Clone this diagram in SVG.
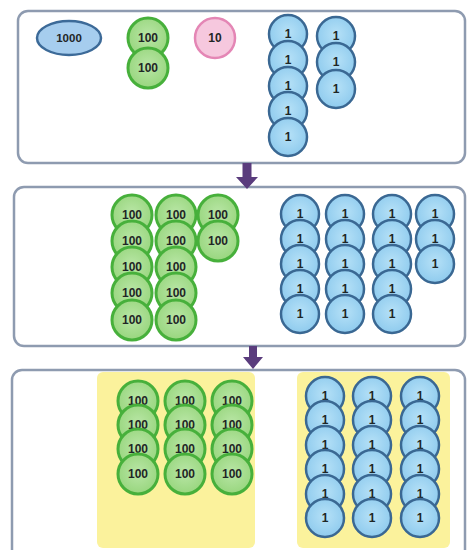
<svg xmlns="http://www.w3.org/2000/svg" width="467" height="550" viewBox="0 0 467 550">
<defs>
<radialGradient id="gb" cx="50%" cy="45%" r="55%"><stop offset="0" stop-color="#b6e1f7"/><stop offset="1" stop-color="#8fcbee"/></radialGradient>
<radialGradient id="gg" cx="50%" cy="45%" r="55%"><stop offset="0" stop-color="#b9e6a6"/><stop offset="1" stop-color="#98d67e"/></radialGradient>
<style>
.panel{fill:#fff;stroke:#8e9bb0;stroke-width:2.5}
.yellow{fill:#fbf29c}
.b circle{fill:url(#gb);stroke:#3a6893;stroke-width:2.5}
.g circle{fill:url(#gg);stroke:#47b03b;stroke-width:3}
.p circle{fill:#f6c8de;stroke:#e486b5;stroke-width:2.5}
.o ellipse{fill:#a6cdee;stroke:#3c6a98;stroke-width:2.5}
text{font-family:"Liberation Sans",Arial,sans-serif;font-weight:bold;font-size:12px;fill:#1f2626;text-anchor:middle;dominant-baseline:central}
.o text{font-size:11.5px}
.arrow{fill:#5a3c7d}
</style>
</defs>
<g id="panels">
<rect id="panel-top" class="panel" x="18" y="11" width="447" height="152" rx="10"/>
<rect id="panel-mid" class="panel" x="14" y="187" width="451" height="159" rx="10"/>
<rect id="panel-bot" class="panel" x="12" y="370" width="453" height="200" rx="10"/>
<rect id="yellow-left" class="yellow" x="97" y="372" width="158" height="176" rx="6"/>
<rect id="yellow-right" class="yellow" x="297" y="372" width="153" height="176" rx="6"/>
</g>
<g id="connectors">
<polygon class="arrow" points="242.5,163 251.5,163 251.5,177 258,177 247,189 236,177 242.5,177"/>
<polygon class="arrow" points="249,346 257,346 257,357 263,357 253,369 243,357 249,357"/>
</g>
<g id="top">
<g id="t1000" class="o"><ellipse cx="69" cy="38" rx="32" ry="17"/><text x="69" y="38">1000</text></g>
<g id="t100a" class="g"><circle cx="148" cy="38" r="20"/><text x="148" y="38">100</text></g>
<g id="t100b" class="g"><circle cx="148" cy="68" r="20"/><text x="148" y="68">100</text></g>
<g id="t10" class="p"><circle cx="215" cy="38" r="20"/><text x="215" y="38">10</text></g>
<g id="t1a" class="b"><circle cx="288" cy="34" r="19"/><text x="288" y="34">1</text></g>
<g id="t1b" class="b"><circle cx="288" cy="60" r="19"/><text x="288" y="60">1</text></g>
<g id="t1c" class="b"><circle cx="288" cy="86" r="19"/><text x="288" y="86">1</text></g>
<g id="t1d" class="b"><circle cx="288" cy="111" r="19"/><text x="288" y="111">1</text></g>
<g id="t1e" class="b"><circle cx="288" cy="137" r="19"/><text x="288" y="137">1</text></g>
<g id="t1f" class="b"><circle cx="336" cy="36" r="19"/><text x="336" y="36">1</text></g>
<g id="t1g" class="b"><circle cx="336" cy="62" r="19"/><text x="336" y="62">1</text></g>
<g id="t1h" class="b"><circle cx="336" cy="89" r="19"/><text x="336" y="89">1</text></g>
</g>
<g id="middle">
<g id="m100-1" class="g"><circle cx="132" cy="215" r="20"/><text x="132" y="215">100</text></g>
<g id="m100-2" class="g"><circle cx="132" cy="241" r="20"/><text x="132" y="241">100</text></g>
<g id="m100-3" class="g"><circle cx="132" cy="267" r="20"/><text x="132" y="267">100</text></g>
<g id="m100-4" class="g"><circle cx="132" cy="293" r="20"/><text x="132" y="293">100</text></g>
<g id="m100-5" class="g"><circle cx="132" cy="320" r="20"/><text x="132" y="320">100</text></g>
<g id="m100-6" class="g"><circle cx="176" cy="215" r="20"/><text x="176" y="215">100</text></g>
<g id="m100-7" class="g"><circle cx="176" cy="241" r="20"/><text x="176" y="241">100</text></g>
<g id="m100-8" class="g"><circle cx="176" cy="267" r="20"/><text x="176" y="267">100</text></g>
<g id="m100-9" class="g"><circle cx="176" cy="293" r="20"/><text x="176" y="293">100</text></g>
<g id="m100-10" class="g"><circle cx="176" cy="320" r="20"/><text x="176" y="320">100</text></g>
<g id="m100-11" class="g"><circle cx="218" cy="215" r="20"/><text x="218" y="215">100</text></g>
<g id="m100-12" class="g"><circle cx="218" cy="241" r="20"/><text x="218" y="241">100</text></g>
<g id="m1-1" class="b"><circle cx="300" cy="214" r="19"/><text x="300" y="214">1</text></g>
<g id="m1-2" class="b"><circle cx="300" cy="239" r="19"/><text x="300" y="239">1</text></g>
<g id="m1-3" class="b"><circle cx="300" cy="264" r="19"/><text x="300" y="264">1</text></g>
<g id="m1-4" class="b"><circle cx="300" cy="289" r="19"/><text x="300" y="289">1</text></g>
<g id="m1-5" class="b"><circle cx="300" cy="314" r="19"/><text x="300" y="314">1</text></g>
<g id="m1-6" class="b"><circle cx="345" cy="214" r="19"/><text x="345" y="214">1</text></g>
<g id="m1-7" class="b"><circle cx="345" cy="239" r="19"/><text x="345" y="239">1</text></g>
<g id="m1-8" class="b"><circle cx="345" cy="264" r="19"/><text x="345" y="264">1</text></g>
<g id="m1-9" class="b"><circle cx="345" cy="289" r="19"/><text x="345" y="289">1</text></g>
<g id="m1-10" class="b"><circle cx="345" cy="314" r="19"/><text x="345" y="314">1</text></g>
<g id="m1-11" class="b"><circle cx="392" cy="214" r="19"/><text x="392" y="214">1</text></g>
<g id="m1-12" class="b"><circle cx="392" cy="239" r="19"/><text x="392" y="239">1</text></g>
<g id="m1-13" class="b"><circle cx="392" cy="264" r="19"/><text x="392" y="264">1</text></g>
<g id="m1-14" class="b"><circle cx="392" cy="289" r="19"/><text x="392" y="289">1</text></g>
<g id="m1-15" class="b"><circle cx="392" cy="314" r="19"/><text x="392" y="314">1</text></g>
<g id="m1-16" class="b"><circle cx="435" cy="214" r="19"/><text x="435" y="214">1</text></g>
<g id="m1-17" class="b"><circle cx="435" cy="239" r="19"/><text x="435" y="239">1</text></g>
<g id="m1-18" class="b"><circle cx="435" cy="264" r="19"/><text x="435" y="264">1</text></g>
</g>
<g id="bottom">
<g id="b100-1" class="g"><circle cx="138" cy="401" r="20"/><text x="138" y="401">100</text></g>
<g id="b100-2" class="g"><circle cx="138" cy="425" r="20"/><text x="138" y="425">100</text></g>
<g id="b100-3" class="g"><circle cx="138" cy="449" r="20"/><text x="138" y="449">100</text></g>
<g id="b100-4" class="g"><circle cx="138" cy="474" r="20"/><text x="138" y="474">100</text></g>
<g id="b100-5" class="g"><circle cx="185" cy="401" r="20"/><text x="185" y="401">100</text></g>
<g id="b100-6" class="g"><circle cx="185" cy="425" r="20"/><text x="185" y="425">100</text></g>
<g id="b100-7" class="g"><circle cx="185" cy="449" r="20"/><text x="185" y="449">100</text></g>
<g id="b100-8" class="g"><circle cx="185" cy="474" r="20"/><text x="185" y="474">100</text></g>
<g id="b100-9" class="g"><circle cx="232" cy="401" r="20"/><text x="232" y="401">100</text></g>
<g id="b100-10" class="g"><circle cx="232" cy="425" r="20"/><text x="232" y="425">100</text></g>
<g id="b100-11" class="g"><circle cx="232" cy="449" r="20"/><text x="232" y="449">100</text></g>
<g id="b100-12" class="g"><circle cx="232" cy="474" r="20"/><text x="232" y="474">100</text></g>
<g id="b1-1" class="b"><circle cx="325" cy="396" r="19"/><text x="325" y="396">1</text></g>
<g id="b1-2" class="b"><circle cx="325" cy="420" r="19"/><text x="325" y="420">1</text></g>
<g id="b1-3" class="b"><circle cx="325" cy="445" r="19"/><text x="325" y="445">1</text></g>
<g id="b1-4" class="b"><circle cx="325" cy="469" r="19"/><text x="325" y="469">1</text></g>
<g id="b1-5" class="b"><circle cx="325" cy="494" r="19"/><text x="325" y="494">1</text></g>
<g id="b1-6" class="b"><circle cx="325" cy="518" r="19"/><text x="325" y="518">1</text></g>
<g id="b1-7" class="b"><circle cx="372" cy="396" r="19"/><text x="372" y="396">1</text></g>
<g id="b1-8" class="b"><circle cx="372" cy="420" r="19"/><text x="372" y="420">1</text></g>
<g id="b1-9" class="b"><circle cx="372" cy="445" r="19"/><text x="372" y="445">1</text></g>
<g id="b1-10" class="b"><circle cx="372" cy="469" r="19"/><text x="372" y="469">1</text></g>
<g id="b1-11" class="b"><circle cx="372" cy="494" r="19"/><text x="372" y="494">1</text></g>
<g id="b1-12" class="b"><circle cx="372" cy="518" r="19"/><text x="372" y="518">1</text></g>
<g id="b1-13" class="b"><circle cx="420" cy="396" r="19"/><text x="420" y="396">1</text></g>
<g id="b1-14" class="b"><circle cx="420" cy="420" r="19"/><text x="420" y="420">1</text></g>
<g id="b1-15" class="b"><circle cx="420" cy="445" r="19"/><text x="420" y="445">1</text></g>
<g id="b1-16" class="b"><circle cx="420" cy="469" r="19"/><text x="420" y="469">1</text></g>
<g id="b1-17" class="b"><circle cx="420" cy="494" r="19"/><text x="420" y="494">1</text></g>
<g id="b1-18" class="b"><circle cx="420" cy="518" r="19"/><text x="420" y="518">1</text></g>
</g>
</svg>
